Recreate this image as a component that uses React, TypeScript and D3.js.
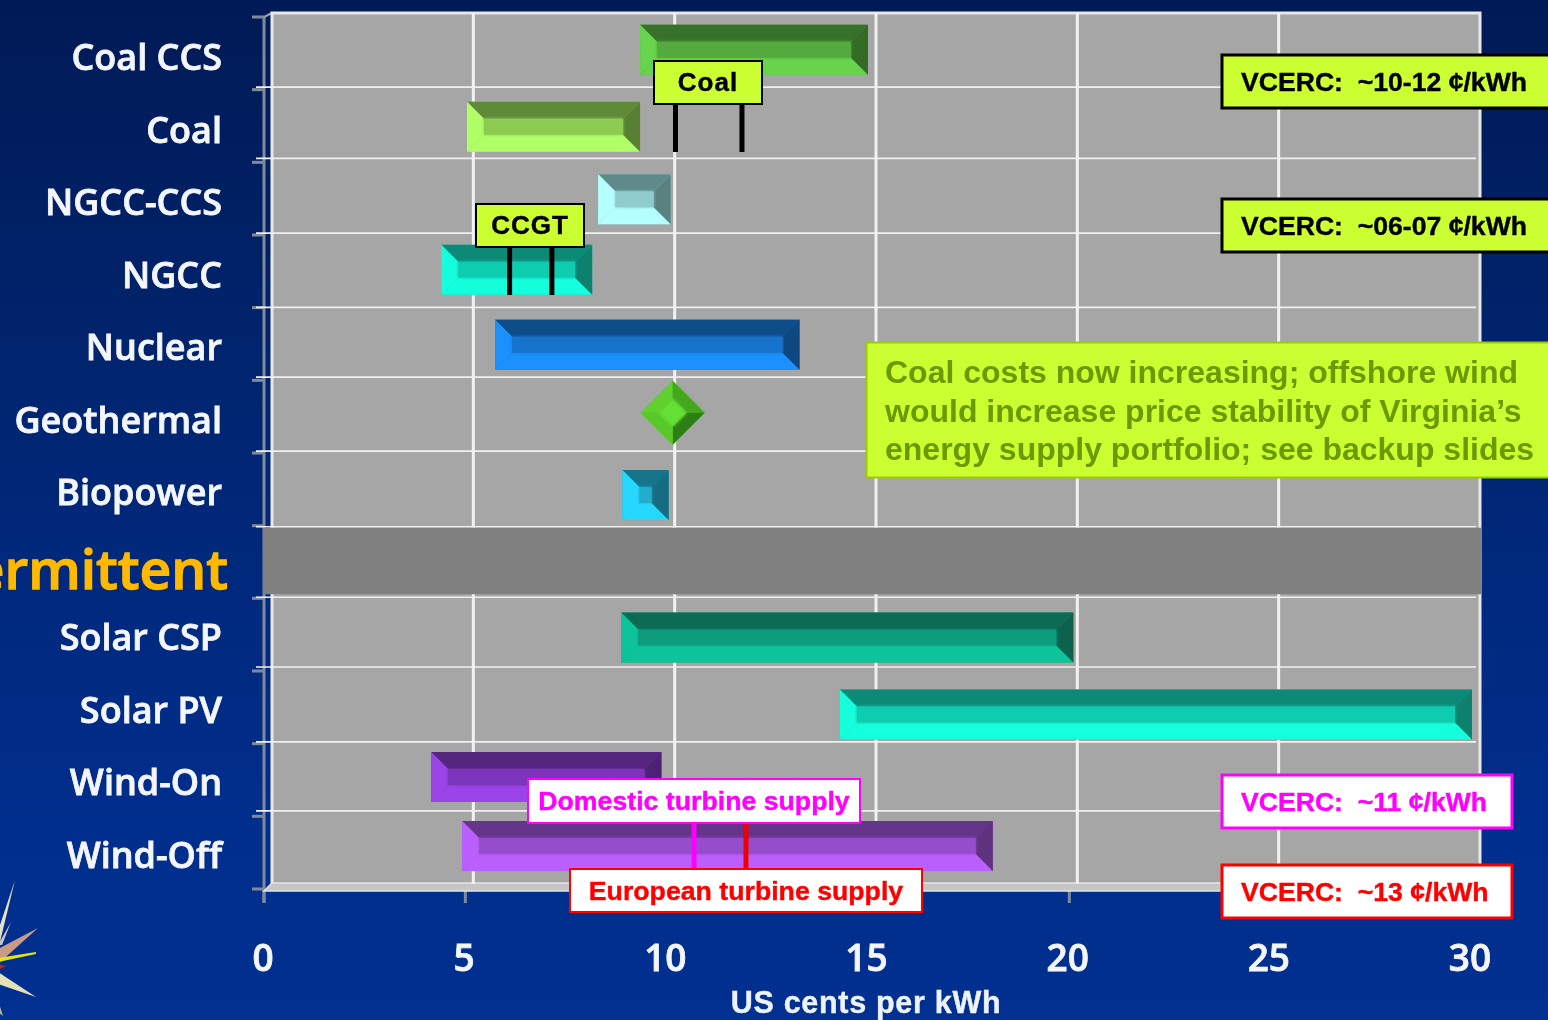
import React from "react";
import * as d3 from "d3";

const categories = ["Coal CCS","Coal","NGCC-CCS","NGCC","Nuclear","Geothermal","Biopower","Intermittent","Solar CSP","Solar PV","Wind-On","Wind-Off"];
const barLow = [9.34,5.04,8.3,4.4,5.74,null,8.9,null,8.87,14.3,4.15,4.92];
const barHigh = [15,9.34,10.1,8.15,13.3,null,10.05,null,20.1,30,9.87,18.1];
const barColors = ["#66d44e","#b0ff66","#b4ffff","#14ffdc","#1a90ff",null,"#28d8ff",null,"#10c49a","#14ffdc","#9b44e8","#bb60ff"];
const barRows = [0.16,1.22,2.22,3.19,4.22,null,6.29,null,8.25,9.31,10.17,11.12];
const geothermalValue = 10.15;
const geothermalRow = 5.5;
const xTicks = [0,5,10,15,20,25,30];
const gridRows = [0,1.02,2,3.03,4.05,5.01,6.03,7.07,8.04,9,10.03,10.98];
const coalTicks = [10.22,11.87];
const ccgtTicks = [6.1,7.15];
const domesticTick = 10.68;
const europeanTick = 11.97;
const noteLines = ["Coal costs now increasing; offshore wind","would increase price stability of Virginia’s","energy supply portfolio; see backup slides"];

const x = d3.scaleLinear().domain([0,30]).range([264,1472]);
const xBack = d3.scaleLinear().domain([0,30]).range([272,1480]);
const xLabel = d3.scaleLinear().domain([0,30]).range([263,1470]);
const y = d3.scaleLinear().domain([0,12]).range([13,885]);
const tickRow = d3.scaleLinear().domain([0,12]).range([17,889]);
const labelRow = d3.scaleLinear().domain([0,11]).range([70,868]);
const barH = 50, bev = 17;

const mix = (c: string, k: number) => { const r = d3.rgb(c); return d3.rgb(r.r*k,r.g*k,r.b*k).formatHex(); };
const pts = (p: number[][]) => p.map(a => a.join(",")).join(" ");

function Bevel({l,r,t,b,color}:{l:number,r:number,t:number,b:number,color:string}) {
  const e = Math.min(bev,(r-l)/2-2);
  return <g>
    <rect x={l} y={t} width={r-l} height={b-t} fill={mix(color,.8)}/>
    <polygon points={pts([[l,t],[r,t],[r-e,t+bev],[l+e,t+bev]])} fill={mix(color,.54)}/>
    <polygon points={pts([[l,b],[r,b],[r-e,b-bev],[l+e,b-bev]])} fill={color}/>
    <polygon points={pts([[l,t],[l+e,t+bev],[l+e,b-bev],[l,b]])} fill={color}/>
    <polygon points={pts([[r,t],[r-e,t+bev],[r-e,b-bev],[r,b]])} fill={mix(color,.5)}/>
    <rect x={l+e} y={t+bev} width={Math.max(r-l-2*e,0)} height={b-t-2*bev} fill={mix(color,.8)} filter="url(#seam)"/>
  </g>;
}

function Box({l,r,t,b,fill,stroke,sw,text,color,size,tx,anchor="middle",ls=0}:any) {
  return <g>
    <rect x={l} y={t} width={r-l} height={b-t} fill={fill} stroke={stroke} strokeWidth={sw}/>
    <text x={tx ?? (l+r)/2} y={(t+b)/2+size*.34} textAnchor={anchor} fontFamily="'Liberation Sans'" fontWeight={700} fontSize={size} letterSpacing={ls} fill={color} stroke={color} strokeWidth={0.4} xmlSpace="preserve">{text}</text>
  </g>;
}

const spikes = [
  {p:[[-2,950],[15,880],[0,925]],c:"#e6e2c8"},
  {p:[[-2,945],[11,922],[2,945]],c:"#c8c8c8"},
  {p:[[-4,950],[38,928],[-2,964]],c:"#c99a88"},
  {p:[[-2,958],[36,952],[36,954],[-2,962]],c:"#e6e600"},
  {p:[[-2,964],[6,966],[-2,970]],c:"#cc2200"},
  {p:[[-2,972],[36,997],[-2,984]],c:"#e4e2b8"},
  {p:[[-2,1000],[3,1016],[-2,1012]],c:"#b8b8a0"},
];

export default function App() {
  const cfLabel = "'Open Sans'";
  return (
    <svg width={1548} height={1020} viewBox="0 0 1548 1020" style={{position:"fixed",left:0,top:0,display:"block"}}>
      <defs>
        <linearGradient id="bg" x1="0" x2="0" y1="0" y2="1">
          <stop offset="0" stopColor="#001a55"/><stop offset="0.35" stopColor="#00246e"/><stop offset="0.8" stopColor="#002e8c"/><stop offset="1" stopColor="#003090"/>
        </linearGradient>
        <filter id="soft" x="-2%" y="-2%" width="104%" height="104%"><feGaussianBlur stdDeviation="0.55"/></filter>
        <filter id="seam" filterUnits="userSpaceOnUse" x="0" y="0" width="1548" height="1020"><feGaussianBlur stdDeviation="1.8"/></filter>
      </defs>
      <rect width={1548} height={1020} fill="url(#bg)"/>
      <g filter="url(#soft)">
        {spikes.map((s,i)=><polygon key={i} points={pts(s.p)} fill={s.c}/>)}
        <line x1={264} x2={264} y1={17} y2={903} stroke="#808a9c" strokeWidth={3}/>
        {d3.range(13).map(i=><line key={i} x1={252} x2={264} y1={tickRow(i)} y2={tickRow(i)} stroke="#808a9c" strokeWidth={3}/>)}
        {xTicks.map(t=><line key={t} x1={x(t)} x2={x(t)} y1={889} y2={903} stroke="#808a9c" strokeWidth={3}/>)}
        <line x1={264} y1={17} x2={272} y2={13} stroke="#9aa2b0" strokeWidth={2}/>
        <rect x={272} y={13} width={1208} height={872} fill="#a6a6a6" stroke="#e8e8e8" strokeWidth={3}/>
        <polygon points={pts([[272,883],[1480,883],[1472,891],[264,891]])} fill="#c6c6c6" stroke="#e4e4e4" strokeWidth={1.5}/>
        {xTicks.slice(1,-1).map(t=><line key={t} x1={xBack(t)} x2={xBack(t)} y1={13} y2={884} stroke="#f2f2f2" strokeWidth={3}/>)}
        {gridRows.slice(1).map(r=><line key={r} x1={256} x2={1476} y1={y(r)} y2={y(r)} stroke="#f0f0f0" strokeWidth={1.7}/>)}
        <rect x={263} y={y(7.07)+1} width={1218} height={y(8.04)-y(7.07)-4} fill="#808080"/>

        {categories.map((c,i)=>{
          const lo = barLow[i], hi = barHigh[i], col = barColors[i], row = barRows[i];
          if (lo==null||hi==null||col==null||row==null) return null;
          const t = y(row);
          return <Bevel key={c} l={x(lo)} r={x(hi)} t={t} b={t+barH} color={col}/>;
        })}

        {(()=>{const cx=x(geothermalValue),cy=y(geothermalRow),w=32,i=14;return <g>
          <polygon points={pts([[cx-w,cy],[cx,cy-w],[cx+w,cy],[cx,cy+w]])} fill="#55c428"/>
          <polygon points={pts([[cx-w,cy],[cx,cy-w],[cx,cy-i],[cx-i,cy]])} fill="#5ed02e"/>
          <polygon points={pts([[cx,cy-w],[cx+w,cy],[cx+i,cy],[cx,cy-i]])} fill="#44a81e"/>
          <polygon points={pts([[cx+w,cy],[cx,cy+w],[cx,cy+i],[cx+i,cy]])} fill="#2f7e14"/>
          <polygon points={pts([[cx,cy+w],[cx-w,cy],[cx-i,cy],[cx,cy+i]])} fill="#58c82a"/>
          <polygon points={pts([[cx-i,cy],[cx,cy-i],[cx+i,cy],[cx,cy+i]])} fill="#66e034" filter="url(#seam)"/>
        </g>;})()}

        {coalTicks.map(v=><line key={v} x1={x(v)} x2={x(v)} y1={104} y2={152} stroke="#000" strokeWidth={5}/>)}
        {ccgtTicks.map(v=><line key={v} x1={x(v)} x2={x(v)} y1={247} y2={295} stroke="#000" strokeWidth={5}/>)}
        <line x1={x(domesticTick)} x2={x(domesticTick)} y1={824} y2={869} stroke="#ff00ff" strokeWidth={5}/>
        <line x1={x(europeanTick)} x2={x(europeanTick)} y1={824} y2={869} stroke="#ee0000" strokeWidth={5}/>

        <Box l={654} r={762} t={61} b={104} fill="#ccff33" stroke="#000" sw={2} text="Coal" color="#000" size={26} ls={1}/>
        <Box l={476} r={584} t={204} b={247} fill="#ccff33" stroke="#000" sw={2} text="CCGT" color="#000" size={26} ls={1}/>
        <Box l={1222} r={1552} t={55} b={108} fill="#ccff33" stroke="#000" sw={3} text="VCERC:  ~10-12 ¢/kWh" color="#000" size={26.6} tx={1241} anchor="start"/>
        <Box l={1222} r={1552} t={199} b={252} fill="#ccff33" stroke="#000" sw={3} text="VCERC:  ~06-07 ¢/kWh" color="#000" size={26.6} tx={1241} anchor="start"/>
        <Box l={1222} r={1512} t={775} b={828} fill="#fff" stroke="#ff00ff" sw={3} text="VCERC:  ~11 ¢/kWh" color="#ff00ff" size={26.6} tx={1241} anchor="start"/>
        <Box l={1222} r={1512} t={865} b={918} fill="#fff" stroke="#ff0000" sw={3} text="VCERC:  ~13 ¢/kWh" color="#ff0000" size={26.6} tx={1241} anchor="start"/>
        <Box l={528} r={860} t={779} b={823} fill="#fff" stroke="#ff00ff" sw={2} text="Domestic turbine supply" color="#ff00ff" size={26.7}/>
        <Box l={570} r={922} t={869} b={912} fill="#fff" stroke="#ff0000" sw={2} text="European turbine supply" color="#ff0000" size={26.7}/>

        <rect x={866.5} y={342.5} width={690} height={135} fill="#ccff33" stroke="#99cc00" strokeWidth={2}/>
        {noteLines.map((s,i)=><text key={i} x={885} y={383+i*38.6} fontFamily="'Liberation Sans'" fontWeight={700} fontSize={32} fill="#6b9900">{s}</text>)}

        {categories.map((c,i)=>{
          const inter = c==="Intermittent";
          const col = inter?"#ffb900":"#f4f6fb";
          return <text key={c} x={inter?228:222} y={inter?589:labelRow(i)} textAnchor="end" fontFamily={cfLabel} fontWeight={600} fontSize={inter?55:36} fill={col} stroke={col} strokeWidth={inter?1.3:0.8}>{c}</text>;
        })}
        {xTicks.map(t=><text key={t} x={xLabel(t)} y={971} textAnchor="middle" fontFamily={cfLabel} fontWeight={600} fontSize={37} fill="#f4f6fb" stroke="#f4f6fb" strokeWidth={0.8}>{t}</text>)}
        <text x={866} y={1013} textAnchor="middle" fontFamily="'Liberation Sans'" fontWeight={700} fontSize={30.5} letterSpacing={0.7} fill="#eef2fb" stroke="#eef2fb" strokeWidth={0.4}>US cents per kWh</text>
      </g>
    </svg>
  );
}
